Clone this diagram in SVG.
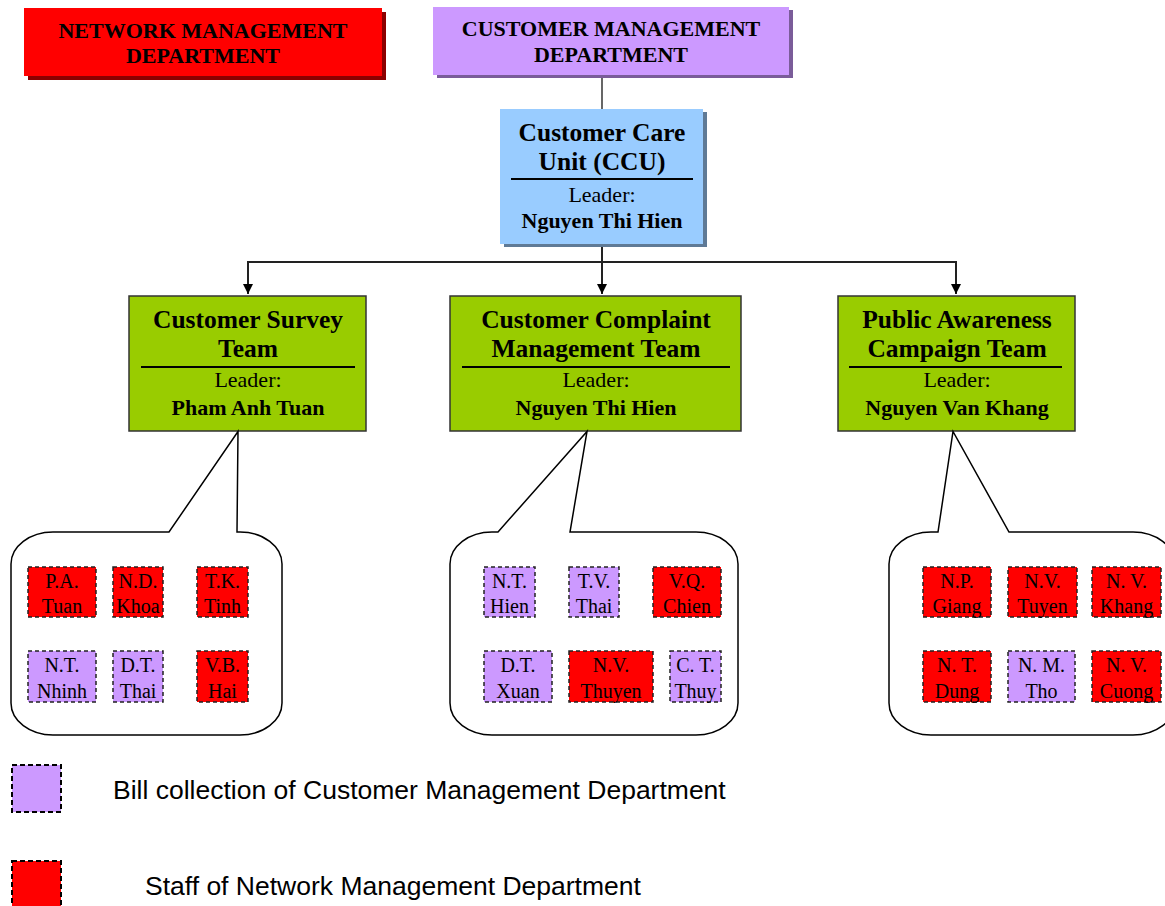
<svg xmlns="http://www.w3.org/2000/svg" width="1165" height="906" viewBox="0 0 1165 906">
  <defs>
    <style>
      .serif { font-family: "Liberation Serif", "Times New Roman", serif; fill: #000; }
      .dept { font-size: 22px; font-weight: bold; text-anchor: middle; }
      .title { font-size: 25.5px; font-weight: bold; text-anchor: middle; }
      .lead { font-size: 22px; text-anchor: middle; }
      .leadname { font-size: 22px; font-weight: bold; text-anchor: middle; }
      .staff { font-size: 20px; text-anchor: middle; }
      .team { fill: #99cc00; stroke: #333; stroke-width: 1.5; }
      .red { fill: #ff0000; stroke: #222; stroke-width: 1.5; stroke-dasharray: 4 3; }
      .purple { fill: #cc99ff; stroke: #222; stroke-width: 1.5; stroke-dasharray: 4 3; }
      .key { stroke: #000; stroke-width: 2; stroke-dasharray: 5 3; }
      .rule { stroke: #000; stroke-width: 2; }
      .callout { fill: #fff; stroke: #000; stroke-width: 1.5; }
      .conn { fill: none; stroke: #222; stroke-width: 2; }
      .legend { font-family: "Liberation Sans", Arial, sans-serif; font-size: 26.5px; fill: #000; }
    </style>
    <marker id="arrow" viewBox="0 0 10 10" refX="10" refY="5" markerWidth="10" markerHeight="10" markerUnits="userSpaceOnUse" orient="auto">
      <path d="M0,0 L10,5 L0,10 Z" fill="#000"/>
    </marker>
  </defs>

  <rect width="1165" height="906" fill="#fff"/>

  <!-- connectors -->
  <g id="connectors">
    <line x1="602" y1="76" x2="602" y2="109" stroke="#000" stroke-width="1.2"/>
    <path class="conn" d="M602,244 V294" marker-end="url(#arrow)"/>
    <path class="conn" d="M248,262 H956"/>
    <path class="conn" d="M248,261 V294" marker-end="url(#arrow)"/>
    <path class="conn" d="M956,261 V294" marker-end="url(#arrow)"/>
  </g>

  <!-- department headers -->
  <g id="network-dept">
    <rect x="28" y="12" width="358" height="68" fill="#8b0000"/>
    <rect x="24" y="8" width="358" height="68" fill="#ff0000"/>
    <text class="serif dept" x="203" y="38">NETWORK MANAGEMENT</text>
    <text class="serif dept" x="203" y="63">DEPARTMENT</text>
  </g>

  <g id="customer-dept">
    <rect x="437" y="10" width="356" height="68" fill="#7a5c99"/>
    <rect x="433" y="7" width="356" height="68" fill="#cc99ff"/>
    <text class="serif dept" x="611" y="36">CUSTOMER MANAGEMENT</text>
    <text class="serif dept" x="611" y="62">DEPARTMENT</text>
  </g>

  <!-- customer care unit -->
  <g id="ccu">
    <rect x="504" y="112" width="203" height="135" fill="#5f7a96"/>
    <rect x="500" y="109" width="203" height="135" fill="#99ccff"/>
    <text class="serif title" x="602" y="141">Customer Care</text>
    <text class="serif title" x="602" y="170">Unit (CCU)</text>
    <line class="rule" x1="511" y1="179" x2="693" y2="179"/>
    <text class="serif lead" x="602" y="202">Leader:</text>
    <text class="serif leadname" x="602" y="228">Nguyen Thi Hien</text>
  </g>

  <!-- teams -->
  <g id="team-survey">
    <rect class="team" x="129" y="296" width="237" height="135"/>
    <text class="serif title" x="248" y="328">Customer Survey</text>
    <text class="serif title" x="248" y="357">Team</text>
    <line class="rule" x1="141" y1="367" x2="355" y2="367"/>
    <text class="serif lead" x="248" y="387">Leader:</text>
    <text class="serif leadname" x="248" y="415">Pham Anh Tuan</text>
  </g>

  <g id="team-complaint">
    <rect class="team" x="450" y="296" width="291" height="135"/>
    <text class="serif title" x="596" y="328">Customer Complaint</text>
    <text class="serif title" x="596" y="357">Management Team</text>
    <line class="rule" x1="462" y1="367" x2="730" y2="367"/>
    <text class="serif lead" x="596" y="387">Leader:</text>
    <text class="serif leadname" x="596" y="415">Nguyen Thi Hien</text>
  </g>

  <g id="team-awareness">
    <rect class="team" x="838" y="296" width="237" height="135"/>
    <text class="serif title" x="957" y="328">Public Awareness</text>
    <text class="serif title" x="957" y="357">Campaign Team</text>
    <line class="rule" x1="849" y1="367" x2="1062" y2="367"/>
    <text class="serif lead" x="957" y="387">Leader:</text>
    <text class="serif leadname" x="957" y="415">Nguyen Van Khang</text>
  </g>

  <!-- member callouts -->
  <g id="members-survey">
    <path class="callout" d="M53,532 H169 L238,431.5 L237,532 H240 A42,32 0 0 1 282,564 V703 A42,32 0 0 1 240,735 H53 A42,32 0 0 1 11,703 V564 A42,32 0 0 1 53,532 Z"/>
    <rect class="red" x="28" y="567" width="68" height="50"/>
    <text class="serif staff" x="62" y="588">P.A.</text>
    <text class="serif staff" x="62" y="613">Tuan</text>
    <rect class="red" x="113" y="567" width="50" height="50"/>
    <text class="serif staff" x="138" y="588">N.D.</text>
    <text class="serif staff" x="138" y="613">Khoa</text>
    <rect class="red" x="197" y="567" width="51" height="50"/>
    <text class="serif staff" x="222.5" y="588">T.K.</text>
    <text class="serif staff" x="222.5" y="613">Tinh</text>
    <rect class="purple" x="28" y="651" width="68" height="51"/>
    <text class="serif staff" x="62" y="672">N.T.</text>
    <text class="serif staff" x="62" y="698">Nhinh</text>
    <rect class="purple" x="113" y="651" width="50" height="51"/>
    <text class="serif staff" x="138" y="672">D.T.</text>
    <text class="serif staff" x="138" y="698">Thai</text>
    <rect class="red" x="197" y="651" width="51" height="51"/>
    <text class="serif staff" x="222.5" y="672">V.B.</text>
    <text class="serif staff" x="222.5" y="698">Hai</text>
  </g>

  <g id="members-complaint">
    <path class="callout" d="M492,532 H498 L587,431.5 L570,532 H696 A42,32 0 0 1 738,564 V703 A42,32 0 0 1 696,735 H492 A42,32 0 0 1 450,703 V564 A42,32 0 0 1 492,532 Z"/>
    <rect class="purple" x="484" y="567" width="51" height="50"/>
    <text class="serif staff" x="509.5" y="588">N.T.</text>
    <text class="serif staff" x="509.5" y="613">Hien</text>
    <rect class="purple" x="569" y="567" width="50" height="50"/>
    <text class="serif staff" x="594" y="588">T.V.</text>
    <text class="serif staff" x="594" y="613">Thai</text>
    <rect class="red" x="653" y="567" width="68" height="50"/>
    <text class="serif staff" x="687" y="588">V.Q.</text>
    <text class="serif staff" x="687" y="613">Chien</text>
    <rect class="purple" x="484" y="651" width="68" height="51"/>
    <text class="serif staff" x="518" y="672">D.T.</text>
    <text class="serif staff" x="518" y="698">Xuan</text>
    <rect class="red" x="569" y="651" width="84" height="51"/>
    <text class="serif staff" x="611" y="672">N.V.</text>
    <text class="serif staff" x="611" y="698">Thuyen</text>
    <rect class="purple" x="670" y="651" width="51" height="51"/>
    <text class="serif staff" x="695.5" y="672">C. T.</text>
    <text class="serif staff" x="695.5" y="698">Thuy</text>
  </g>

  <g id="members-awareness">
    <path class="callout" d="M931,532 H938 L953,431.5 L1009,532 H1133 A42,32 0 0 1 1175,564 V703 A42,32 0 0 1 1133,735 H931 A42,32 0 0 1 889,703 V564 A42,32 0 0 1 931,532 Z"/>
    <rect class="red" x="923" y="567" width="68" height="50"/>
    <text class="serif staff" x="957" y="588">N.P.</text>
    <text class="serif staff" x="957" y="613">Giang</text>
    <rect class="red" x="1008" y="567" width="69" height="50"/>
    <text class="serif staff" x="1042.5" y="588">N.V.</text>
    <text class="serif staff" x="1042.5" y="613">Tuyen</text>
    <rect class="red" x="1092" y="567" width="69" height="50"/>
    <text class="serif staff" x="1126.5" y="588">N. V.</text>
    <text class="serif staff" x="1126.5" y="613">Khang</text>
    <rect class="red" x="923" y="651" width="68" height="51"/>
    <text class="serif staff" x="957" y="672">N. T.</text>
    <text class="serif staff" x="957" y="698">Dung</text>
    <rect class="purple" x="1008" y="651" width="67" height="51"/>
    <text class="serif staff" x="1041.5" y="672">N. M.</text>
    <text class="serif staff" x="1041.5" y="698">Tho</text>
    <rect class="red" x="1092" y="651" width="69" height="51"/>
    <text class="serif staff" x="1126.5" y="672">N. V.</text>
    <text class="serif staff" x="1126.5" y="698">Cuong</text>
  </g>

  <!-- legend -->
  <g id="legend">
    <rect class="purple key" x="12" y="765" width="49" height="47"/>
    <text class="legend" x="113" y="799">Bill collection of Customer Management Department</text>
    <rect class="red key" x="12" y="861" width="49" height="48"/>
    <text class="legend" x="145" y="895">Staff of Network Management Department</text>
  </g>
</svg>
